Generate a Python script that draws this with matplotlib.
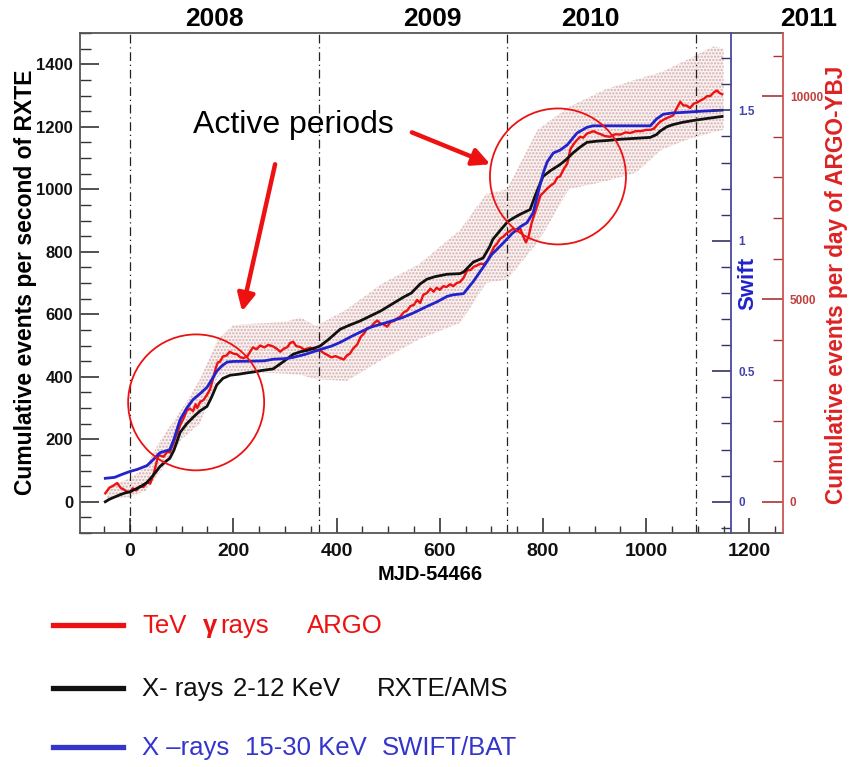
import numpy as np
import matplotlib.pyplot as plt
import matplotlib.transforms as mtransforms
from matplotlib.lines import Line2D
from matplotlib.patches import Ellipse
from matplotlib.ticker import MultipleLocator, FuncFormatter

plt.rcParams['font.family'] = ['Liberation Sans', 'DejaVu Sans']
plt.rcParams['font.weight'] = 'bold'
plt.rcParams['hatch.linewidth'] = 1.1

# ── data (all in left-axis / RXTE units) ─────────────────────────────────────
red_x = [-48, -40, -32, -25, -18, -13, -5, 0, 5, 12,
         19, 26, 33, 39, 45, 50, 55, 58, 65, 72,
         77, 85, 92, 97, 104, 110, 116, 122, 127, 130,
         136, 142, 149, 155, 161, 166, 170, 174, 180, 187,
         193, 200, 207, 214, 220, 227, 232, 238, 245, 252,
         260, 268, 277, 284, 291, 298, 305, 310, 316, 322,
         330, 337, 343, 350, 358, 368, 375, 382, 390, 398,
         407, 414, 420, 426, 432, 440, 447, 453, 459, 466,
         473, 479, 485, 491, 498, 505, 511, 517, 524, 530,
         537, 543, 550, 556, 562, 568, 575, 582, 588, 594,
         600, 607, 613, 620, 626, 633, 639, 646, 653, 660,
         666, 672, 679, 685, 692, 698, 705, 711, 717, 723,
         730, 736, 742, 749, 756, 762, 767, 772, 778, 785,
         790, 795, 800, 808, 815, 822, 828, 833, 840, 847,
         853, 860, 866, 872, 878, 885, 892, 898, 905, 912,
         920, 930, 940, 950, 960, 969, 980, 990, 1000, 1008,
         1015, 1021, 1027, 1035, 1043, 1052, 1058, 1066, 1072, 1078,
         1085, 1092, 1099, 1105, 1112, 1118, 1124, 1131, 1137, 1142,
         1147]
red_y = [27, 45, 52, 60, 44, 40, 32, 30, 43, 36,
         50, 47, 62, 58, 85, 118, 150, 148, 144, 160,
         158, 192, 222, 245, 268, 292, 298, 290, 312, 300,
         320, 325, 342, 360, 395, 428, 446, 448, 465, 468,
         480, 474, 472, 462, 460, 465, 478, 494, 488, 500,
         494, 502, 497, 490, 480, 490, 495, 508, 512, 498,
         495, 487, 490, 493, 484, 485, 476, 470, 462, 466,
         460, 455, 468, 474, 490, 503, 528, 538, 555, 558,
         572, 580, 570, 568, 560, 576, 578, 586, 593, 606,
         612, 626, 630, 646, 636, 662, 668, 682, 672, 685,
         678, 690, 687, 696, 690, 700, 703, 716, 740, 742,
         752, 756, 762, 760, 770, 790, 815, 826, 842, 848,
         860, 866, 874, 866, 874, 848, 830, 848, 892, 928,
         952, 980, 988, 1002, 1012, 1020, 1038, 1041, 1064, 1082,
         1128, 1146, 1158, 1168, 1165, 1178, 1182, 1186, 1180, 1176,
         1170, 1168, 1176, 1175, 1182, 1180, 1186, 1186, 1190, 1190,
         1194, 1206, 1216, 1224, 1230, 1236, 1256, 1280, 1268, 1268,
         1260, 1274, 1278, 1284, 1290, 1298, 1298, 1310, 1316, 1308,
         1304]

# ARGO error band
band_x = [-45, 0, 30, 60, 100, 135, 170, 200, 240, 300, 330, 360, 420,
          490, 560, 640, 690, 730, 790, 850, 920, 980, 1030, 1080, 1130, 1150]
band_lo = [10, 15, 35, 100, 200, 250, 400, 414, 414, 410, 406, 392, 387,
           456, 520, 573, 700, 711, 830, 1000, 1025, 1053, 1127, 1159, 1183, 1190]
band_hi = [45, 75, 110, 200, 295, 390, 520, 565, 570, 575, 590, 562, 616,
           700, 760, 871, 985, 1000, 1191, 1263, 1319, 1351, 1375, 1415, 1457, 1450]

# RXTE/ASM
blk_x = [-48, -40, -30, -20, -10, 0, 10, 20, 33, 45,
         58, 70, 77, 85, 97, 110, 122, 135, 149, 158,
         168, 180, 194, 210, 225, 238, 255, 277, 290, 300,
         316, 330, 345, 368, 385, 407, 425, 445, 465, 485,
         505, 529, 545, 562, 575, 590, 614, 639, 646, 665,
         684, 697, 703, 718, 732, 745, 756, 775, 785, 800,
         815, 833, 845, 858, 872, 885, 905, 924, 950, 980,
         1008, 1020, 1027, 1040, 1052, 1070, 1091, 1120, 1147]
blk_y = [0, 8, 15, 22, 28, 32, 40, 48, 62, 85,
         113, 130, 139, 165, 222, 250, 270, 290, 305, 335,
         374, 395, 405, 408, 412, 415, 420, 425, 440, 452,
         472, 480, 485, 498, 520, 552, 565, 578, 594, 610,
         630, 654, 668, 697, 712, 720, 728, 730, 735, 767,
         780, 817, 840, 870, 897, 910, 920, 935, 980, 1041,
         1060, 1079, 1095, 1116, 1135, 1150, 1154, 1156, 1160, 1163,
         1166, 1175, 1186, 1200, 1207, 1214, 1220, 1227, 1233]

# Swift/BAT
blu_x = [-48, -30, -15, 0, 15, 33, 45, 58, 70, 77,
         85, 97, 110, 122, 135, 149, 158, 168, 178, 188,
         200, 238, 260, 277, 300, 316, 340, 368, 390, 407,
         430, 465, 500, 529, 550, 575, 595, 614, 625, 646,
         665, 684, 700, 723, 740, 756, 769, 781, 790, 800,
         808, 820, 833, 847, 866, 885, 897, 950, 1008, 1020,
         1033, 1050, 1072, 1110, 1147]
blu_y = [75, 78, 88, 97, 104, 116, 135, 157, 163, 167,
         200, 263, 300, 327, 345, 366, 390, 418, 435, 447,
         449, 450, 451, 456, 458, 462, 472, 487, 498, 510,
         530, 558, 575, 590, 605, 625, 640, 657, 662, 666,
         705, 750, 790, 828, 858, 880, 893, 925, 985, 1050,
         1087, 1116, 1125, 1142, 1180, 1198, 1203, 1203, 1203, 1225,
         1240, 1244, 1246, 1250, 1253]

year_labels = ['2008', '2009', '2010', '2011']
year_label_x = [163, 585, 891, 1314]
year_starts = [0, 366, 731, 1096]

SWIFT_UNIT = 835.0    # left-axis value of Swift = 1
ARGO_UNIT = 0.1297    # left-axis value of one ARGO count

# ── figure ────────────────────────────────────────────────────────────────────
W, H = 849, 767
fx = lambda px: px / W
fy = lambda py: 1 - py / H

fig = plt.figure(figsize=(W / 100, H / 100), dpi=100)
ax = fig.add_axes([fx(80), fy(533), (783 - 80) / W, 500 / H])
ax.set_xlim(-97, 1265)
ax.set_ylim(-100, 1500)

ax.fill_between(band_x, band_lo, band_hi, facecolor='#fcf2f2',
                edgecolor='#d2afaf', hatch='.....', linewidth=0, zorder=1)
for xv in year_starts:
    ax.axvline(xv, color='#222222', lw=0.9, ls=(0, (7, 3, 1, 3)), zorder=2)
ax.plot(red_x, red_y, color='#ee1111', lw=1.7, zorder=3)
ax.plot(blk_x, blk_y, color='#111111', lw=2.0, zorder=4)
ax.plot(blu_x, blu_y, color='#2323cc', lw=2.0, zorder=5)

# highlighted active periods
for cx, cy in [(128, 318), (829, 1041)]:
    ax.add_patch(Ellipse((cx, cy), 263.5, 435, fill=False,
                         edgecolor='#ee1111', lw=1.3, zorder=6))
ax.text(316, 1207, 'Active periods', fontsize=23, fontweight='normal',
        ha='center', va='center', zorder=7)
arw = dict(arrowstyle='-|>', color='#ee1111', lw=3.2, mutation_scale=26,
           shrinkA=0, shrinkB=0)
ax.annotate('', xy=(217, 609), xytext=(281, 1080), arrowprops=arw)
ax.annotate('', xy=(698, 1080), xytext=(546, 1182), arrowprops=arw)

# main axes styling
frame_col = '#555555'
for s in ['left', 'bottom', 'top']:
    ax.spines[s].set_color(frame_col)
    ax.spines[s].set_linewidth(1.3)
ax.spines['right'].set_visible(False)
ax.xaxis.set_major_locator(MultipleLocator(200))
ax.xaxis.set_minor_locator(MultipleLocator(50))
ax.yaxis.set_major_locator(MultipleLocator(200))
ax.yaxis.set_minor_locator(MultipleLocator(50))
ax.tick_params(which='both', direction='in', top=False, right=False,
               color='#333333', labelcolor='#111111')
ax.tick_params(axis='y', which='major', length=14, width=1.2, pad=5, labelsize=12)
ax.tick_params(axis='y', which='minor', length=8, width=1.0)
ax.tick_params(axis='x', which='major', length=11, width=1.2, pad=7, labelsize=14)
ax.tick_params(axis='x', which='minor', length=5, width=1.0)

fmt = FuncFormatter(lambda v, _: f'{v:g}')

# Swift axis, drawn inside the frame
axs = ax.twinx()
axs.set_ylim(-100 / SWIFT_UNIT, 1500 / SWIFT_UNIT)
for s in ['left', 'top', 'bottom']:
    axs.spines[s].set_visible(False)
axs.spines['right'].set_position(('data', 1165))
axs.spines['right'].set_color('#4a4aa0')
axs.spines['right'].set_linewidth(1.3)
axs.yaxis.set_major_locator(MultipleLocator(0.5))
axs.yaxis.set_minor_locator(MultipleLocator(0.1))
axs.yaxis.set_major_formatter(fmt)
axs.tick_params(which='both', direction='in', color='#333366',
                labelcolor='#4444aa', labelsize=8.5, pad=5)
axs.tick_params(which='major', length=14, width=1.2)
axs.tick_params(which='minor', length=7, width=1.0)

# ARGO-YBJ axis at the right edge
axa = ax.twinx()
axa.set_ylim(-100 / ARGO_UNIT, 1500 / ARGO_UNIT)
for s in ['left', 'top', 'bottom']:
    axa.spines[s].set_visible(False)
axa.spines['right'].set_color('#cc5555')
axa.spines['right'].set_linewidth(1.3)
axa.yaxis.set_major_locator(MultipleLocator(5000))
axa.yaxis.set_minor_locator(MultipleLocator(1000))
axa.yaxis.set_major_formatter(fmt)
axa.tick_params(which='both', direction='in', color='#aa3333',
                labelcolor='#c04040', labelsize=8.5, pad=5)
axa.tick_params(which='major', length=15, width=1.2)
axa.tick_params(which='minor', length=7, width=1.0)

# titles
blend = mtransforms.blended_transform_factory(ax.transData, fig.transFigure)
for lab, xv in zip(year_labels, year_label_x):
    ax.text(xv, fy(19), lab, transform=blend, fontsize=19,
            ha='center', va='center')
fig.text(fx(26), fy(282), 'Cumulative events per second of RXTE',
         rotation=90, fontsize=16.5, ha='center', va='center')
fig.text(fx(837), fy(285), 'Cumulative events per day of ARGO-YBJ',
         rotation=90, fontsize=16.3, color='#dd2222', ha='center', va='center')
fig.text(fx(748), fy(283), 'Swift', rotation=90, fontsize=16,
         color='#2222cc', ha='center', va='center')
fig.text(fx(430), fy(574), 'MJD-54466', fontsize=14.5,
         ha='center', va='center')

# legend below the plot
leg_rows = [
    (633, '#ee1111', [(142, 'TeV', 'normal'), (203, 'γ', 'bold'),
                      (220, 'rays', 'normal'), (307, 'ARGO', 'normal')]),
    (696, '#111111', [(142, 'X- rays', 'normal'), (233, '2-12 KeV', 'normal'),
                      (377, 'RXTE/AMS', 'normal')]),
    (755, '#3535cc', [(142, 'X –rays', 'normal'), (245, '15-30 KeV', 'normal'),
                      (382, 'SWIFT/BAT', 'normal')]),
]
for base, col, parts in leg_rows:
    fig.add_artist(Line2D([fx(53), fx(123)], [fy(base - 8), fy(base - 8)],
                          color=col, lw=3.8, transform=fig.transFigure))
    for px, txt, wt in parts:
        fig.text(fx(px), fy(base), txt, color=col, fontsize=18.5,
                 fontweight=wt, ha='left', va='baseline')

fig.savefig('out.png', dpi=100)
